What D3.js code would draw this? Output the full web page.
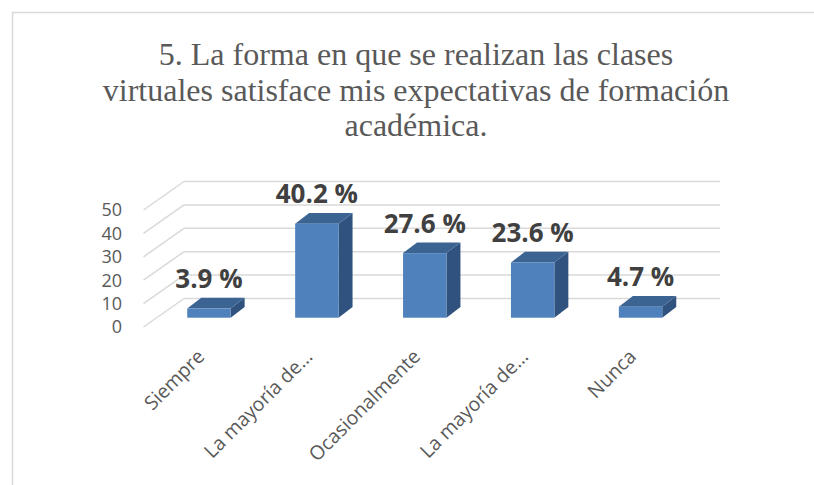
<!DOCTYPE html>
<html><head><meta charset="utf-8">
<script src="https://cdn.jsdelivr.net/npm/d3@7"></script>
<style>body{margin:0;background:#fff;}svg{display:block;}</style>
</head><body>
<svg id="c" width="814" height="485"></svg>
<script>
const titleLines = ["5. La forma en que se realizan las clases","virtuales satisface mis expectativas de formación","académica."];
const categories = ["Siempre","La mayoría de…","Ocasionalmente","La mayoría de… ","Nunca"];
const values = [3.9, 40.2, 27.6, 23.6, 4.7];
const valueLabels = ["3.9 %","40.2 %","27.6 %","23.6 %","4.7 %"];
const yTicks = [0,10,20,30,40,50];

const svg = d3.select("#c");
svg.append("rect").attr("x",12.5).attr("y",12.5).attr("width",900).attr("height",600)
  .attr("fill","#fff").attr("stroke","#d9d9d9").attr("stroke-width",1.5);

const title = svg.append("text").attr("text-anchor","middle")
  .style("font-family","\"Liberation Serif\", \"Times New Roman\", \"DejaVu Serif\", serif").attr("font-size",32).attr("fill","#595959");
titleLines.forEach((t,i)=>title.append("tspan").attr("x",416).attr("y",65+i*35.5).text(t));

const slope = 2.34;
const yBack = d3.scaleLinear().domain([0,50]).range([298.5,298.5-50*slope]);
const yFront = d3.scaleLinear().domain([0,50]).range([327,327-50*slope]);
const yBar = d3.scaleLinear().domain([0,50]).range([317.7,317.7-50*slope]);
const x = d3.scalePoint().domain(categories).range([155,694.5]).padding(0.5);
const bw = 43.4, ddx = 14, ddy = -10.7;
const backL = 184, backR = 720, frontL = 143.5;

const g = svg.append("g");
yTicks.forEach(v=>{
  g.append("line").attr("x1",frontL).attr("y1",yFront(v)).attr("x2",backL).attr("y2",yBack(v))
    .attr("stroke","#d9d9d9").attr("stroke-width",1.5);
  g.append("line").attr("x1",backL).attr("y1",yBack(v)).attr("x2",backR).attr("y2",yBack(v))
    .attr("stroke","#d9d9d9").attr("stroke-width",1.5);
  svg.append("text").attr("x",122).attr("y",yFront(v)).attr("dy","0.35em").attr("text-anchor","end")
    .attr("font-family","'Open Sans',sans-serif").attr("font-size",18).attr("fill","#595959").text(v);
});

categories.forEach((c,i)=>{
  const l = x(c)-bw/2, r = x(c)+bw/2, b = yBar(0), t = yBar(values[i]);
  const bg = svg.append("g");
  bg.append("path").attr("d",`M${r},${b}L${r+ddx},${b+ddy}L${r+ddx},${t+ddy}L${r},${t}Z`).attr("fill","#30527f");
  bg.append("path").attr("d",`M${l},${t}L${l+ddx},${t+ddy}L${r+ddx},${t+ddy}L${r},${t}Z`).attr("fill","#3b6493");
  bg.append("rect").attr("x",l).attr("y",t).attr("width",bw).attr("height",b-t).attr("fill","#4f81bd");
  svg.append("text").attr("x",x(c)).attr("y",t-20.5).attr("text-anchor","middle")
    .attr("font-family","'Open Sans',sans-serif").attr("font-weight","bold").attr("font-size",26)
    .attr("fill","#404040").text(valueLabels[i]);
  const ax = x(c)-8, ay = 353;
  svg.append("text").attr("transform",`translate(${ax},${ay}) rotate(-45)`).attr("text-anchor","end")
    .attr("dy","0.35em").attr("font-family","'Open Sans',sans-serif").attr("font-size",19.5)
    .attr("fill","#595959").text(c.trim());
});
</script>
</body></html>
